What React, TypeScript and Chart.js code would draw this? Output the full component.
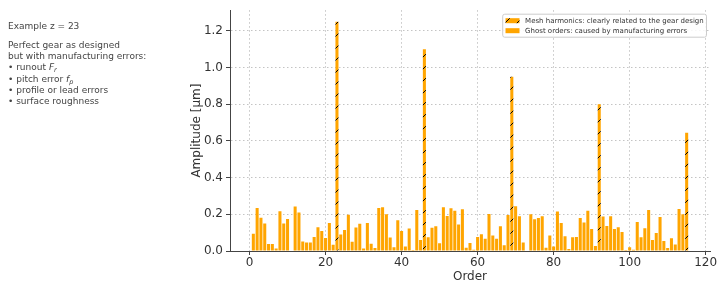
import React, { useEffect, useRef } from "react";
import { Chart, registerables } from "chart.js";

Chart.register(...registerables);

// ---------- data ----------
const meshOrders = [23, 46, 69, 92, 115];
const meshAmps = [1.25, 1.1, 0.95, 0.8, 0.645];

// ghost-order amplitudes for orders 1..115 (null where a mesh harmonic sits)
const ghostAmps: (number | null)[] = [
  0.094, 0.235, 0.181, 0.15, 0.038, 0.038, 0.014, 0.217, 0.15, 0.175,
  0.0, 0.243, 0.21, 0.052, 0.047, 0.047, 0.076, 0.13, 0.109, 0.071,
  0.152, 0.034, null, 0.09, 0.114, 0.197, 0.051, 0.128, 0.148, 0.013,
  0.152, 0.04, 0.016, 0.234, 0.238, 0.2, 0.073, 0.02, 0.167, 0.109,
  0.024, 0.122, 0.005, 0.224, 0.06, null, 0.075, 0.127, 0.135, 0.042,
  0.238, 0.191, 0.233, 0.22, 0.145, 0.227, 0.018, 0.044, 0.007, 0.076,
  0.091, 0.067, 0.202, 0.085, 0.067, 0.135, 0.031, 0.196, null, 0.244,
  0.189, 0.047, 0.0, 0.2, 0.173, 0.18, 0.189, 0.018, 0.085, 0.024,
  0.215, 0.153, 0.08, 0.011, 0.075, 0.076, 0.18, 0.156, 0.22, 0.12,
  0.027, null, 0.188, 0.136, 0.189, 0.12, 0.129, 0.104, 0.005, 0.02,
  0.007, 0.158, 0.075, 0.124, 0.224, 0.06, 0.098, 0.185, 0.055, 0.016,
  0.069, 0.036, 0.229, 0.2, null,
];

const xTickValues = [0, 20, 40, 60, 80, 100, 120];
const xTickLabels = ["0", "20", "40", "60", "80", "100", "120"];
const yTickValues = [0, 0.2, 0.4, 0.6, 0.8, 1.0, 1.2];
const yTickLabels = ["0.0", "0.2", "0.4", "0.6", "0.8", "1.0", "1.2"];

const meshLabel = "Mesh harmonics: clearly related to the gear design";
const ghostLabel = "Ghost orders: caused by manufacturing errors";
const xTitle = "Order";
const yTitle = "Amplitude [μm]";

const FONT = "'DejaVu Sans', sans-serif";
const ORANGE = "#FFA500";
const TEXT = "#333333";

function makeHatch(): CanvasPattern | string {
  const c = document.createElement("canvas");
  c.width = 12;
  c.height = 12;
  const g = c.getContext("2d");
  if (!g) return ORANGE;
  g.fillStyle = ORANGE;
  g.fillRect(0, 0, 12, 12);
  g.strokeStyle = "#000";
  g.lineWidth = 1;
  g.beginPath();
  g.moveTo(0, 12);
  g.lineTo(12, 0);
  g.moveTo(-6, 6);
  g.lineTo(6, -6);
  g.moveTo(6, 18);
  g.lineTo(18, 6);
  g.stroke();
  const p = g.createPattern(c, "repeat");
  return p || ORANGE;
}

export default function App() {
  const ref = useRef<HTMLCanvasElement | null>(null);

  useEffect(() => {
    const canvas = ref.current;
    if (!canvas) return;
    const hatch = makeHatch();

    const meshData = meshOrders.map((o, i) => ({ x: o, y: meshAmps[i] }));
    const ghostData = ghostAmps
      .map((v, i) => ({ x: i + 1, y: v }))
      .filter((d) => d.y !== null) as { x: number; y: number }[];

    const legendPlugin = {
      id: "customLegend",
      afterDraw(chart: any) {
        const ctx = chart.ctx;
        const area = chart.chartArea;
        const fs = 7;
        const right = area.right - 3.5;
        const top = area.top + 4;
        ctx.save();
        ctx.font = `${fs}px ${FONT}`;
        const tw = Math.max(
          ctx.measureText(meshLabel).width,
          ctx.measureText(ghostLabel).width
        );
        const pad = 2.8;
        const handleW = 14;
        const handleGap = 5.6;
        const rowH = 10;
        const boxW = pad * 2 + handleW + handleGap + tw;
        const boxH = rowH * 2 + 3;
        const left = right - boxW;
        ctx.beginPath();
        const r = 2;
        ctx.moveTo(left + r, top);
        ctx.lineTo(left + boxW - r, top);
        ctx.quadraticCurveTo(left + boxW, top, left + boxW, top + r);
        ctx.lineTo(left + boxW, top + boxH - r);
        ctx.quadraticCurveTo(left + boxW, top + boxH, left + boxW - r, top + boxH);
        ctx.lineTo(left + r, top + boxH);
        ctx.quadraticCurveTo(left, top + boxH, left, top + boxH - r);
        ctx.lineTo(left, top + r);
        ctx.quadraticCurveTo(left, top, left + r, top);
        ctx.closePath();
        ctx.fillStyle = "rgba(255,255,255,0.85)";
        ctx.fill();
        ctx.strokeStyle = "#cccccc";
        ctx.lineWidth = 1;
        ctx.stroke();

        const rows = [
          { label: meshLabel, fill: hatch },
          { label: ghostLabel, fill: ORANGE },
        ];
        rows.forEach((row, i) => {
          const cy = top + 1.5 + rowH * i + rowH / 2;
          ctx.fillStyle = row.fill;
          ctx.fillRect(left + pad, cy - 2.5, handleW, 5);
          ctx.fillStyle = TEXT;
          ctx.textBaseline = "middle";
          ctx.textAlign = "left";
          ctx.fillText(row.label, left + pad + handleW + handleGap, cy);
        });
        ctx.restore();
      },
    };

    const gridCommon = {
      color: "#c4c4c4",
      lineWidth: 1,
      drawTicks: true,
      tickLength: 4,
      tickColor: "#444",
      tickBorderDash: [1, 0],
      tickWidth: 1,
      offset: false,
    };
    const borderCommon = {
      display: true,
      color: "#444",
      width: 1,
      dash: [1.5, 2.5],
    };

    const chart = new Chart(canvas, {
      type: "bar",
      data: {
        datasets: [
          {
            label: meshLabel,
            data: meshData,
            backgroundColor: hatch as any,
            grouped: false,
            barPercentage: 0.8,
            categoryPercentage: 1,
          } as any,
          {
            label: ghostLabel,
            data: ghostData,
            backgroundColor: ORANGE,
            grouped: false,
            barPercentage: 0.8,
            categoryPercentage: 1,
          } as any,
        ],
      },
      options: {
        animation: false,
        responsive: false,
        maintainAspectRatio: false,
        layout: { padding: { left: 180, right: 10, top: 10, bottom: 0 } },
        plugins: {
          legend: { display: false },
          tooltip: { enabled: false },
        },
        scales: {
          x: {
            type: "linear",
            offset: false,
            min: -5.14,
            max: 121.14,
            afterBuildTicks: (s: any) => {
              s.ticks = xTickValues.map((v) => ({ value: v }));
            },
            afterFit: (s: any) => {
              s.height = 36;
            },
            grid: gridCommon as any,
            border: borderCommon as any,
            ticks: {
              font: { family: FONT, size: 12 },
              color: TEXT,
              padding: 1,
              maxRotation: 0,
              callback: (v: any) => xTickLabels[xTickValues.indexOf(Number(v))] ?? "",
            },
            title: {
              display: true,
              text: xTitle,
              font: { family: FONT, size: 12 },
              color: TEXT,
              padding: { top: 0, bottom: 3 },
            },
          },
          y: {
            type: "linear",
            min: 0,
            max: 1.3125,
            afterBuildTicks: (s: any) => {
              s.ticks = yTickValues.map((v) => ({ value: v }));
            },
            afterFit: (s: any) => {
              s.width = 50;
            },
            grid: gridCommon as any,
            border: borderCommon as any,
            ticks: {
              font: { family: FONT, size: 12 },
              color: TEXT,
              padding: 3,
              callback: (v: any) => yTickLabels[yTickValues.indexOf(Number(v))] ?? "",
            },
            title: {
              display: true,
              text: yTitle,
              font: { family: FONT, size: 12 },
              color: TEXT,
              padding: { top: 10, bottom: 0 },
            },
          },
        },
      } as any,
      plugins: [legendPlugin],
    });

    return () => chart.destroy();
  }, []);

  const lineStyle = (top: number): React.CSSProperties => ({
    position: "absolute",
    left: 8,
    top,
    fontFamily: FONT,
    fontSize: 9,
    lineHeight: "11px",
    color: "#444",
    whiteSpace: "nowrap",
  });

  return (
    <div
      style={{
        position: "fixed",
        left: 0,
        top: 0,
        width: 720,
        height: 287,
        background: "#fff",
      }}
    >
      <canvas
        ref={ref}
        width={720}
        height={287}
        style={{ position: "absolute", left: 0, top: 0, width: 720, height: 287 }}
      />
      <div style={lineStyle(20.5)}>Example z = 23</div>
      <div style={lineStyle(40)}>Perfect gear as designed</div>
      <div style={lineStyle(51)}>but with manufacturing errors:</div>
      <div style={lineStyle(62)}>
        • runout <i>F</i>
        <sub style={{ fontSize: 6.5, fontStyle: "italic", verticalAlign: "-1.5px" }}>r</sub>
      </div>
      <div style={lineStyle(73.5)}>
        • pitch error <i>f</i>
        <sub style={{ fontSize: 6.5, fontStyle: "italic", verticalAlign: "-1.5px" }}>p</sub>
      </div>
      <div style={lineStyle(85)}>• profile or lead errors</div>
      <div style={lineStyle(96)}>• surface roughness</div>
    </div>
  );
}
